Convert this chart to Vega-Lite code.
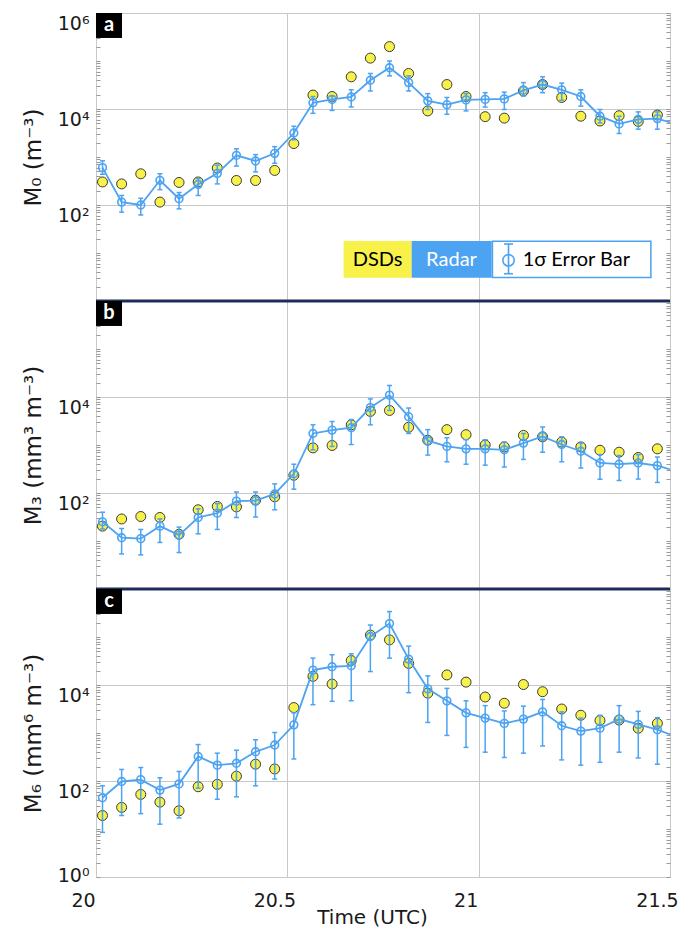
{
  "$schema": "https://vega.github.io/schema/vega-lite/v6.json",
  "background": "white",
  "padding": {"left": 21, "top": 12, "right": 0, "bottom": 0},
  "spacing": 0,
  "bounds": "flush",
  "datasets": {
    "M0": [
      {"t": 20.017, "dsd": 302, "radar": 600, "lo": 437, "hi": 832},
      {"t": 20.067, "dsd": 275, "radar": 115, "lo": 71, "hi": 158},
      {"t": 20.117, "dsd": 447, "radar": 100, "lo": 62, "hi": 138},
      {"t": 20.167, "dsd": 115, "radar": 327, "lo": 209, "hi": 447},
      {"t": 20.217, "dsd": 295, "radar": 135, "lo": 83, "hi": 182},
      {"t": 20.267, "dsd": 302, "radar": 269, "lo": 158, "hi": 355},
      {"t": 20.317, "dsd": 589, "radar": 457, "lo": 275, "hi": 676},
      {"t": 20.367, "dsd": 324, "radar": 1084, "lo": 646, "hi": 1479},
      {"t": 20.417, "dsd": 324, "radar": 826, "lo": 490, "hi": 1122},
      {"t": 20.467, "dsd": 525, "radar": 1191, "lo": 741, "hi": 1641},
      {"t": 20.517, "dsd": 1905, "radar": 3162, "lo": 2291, "hi": 4365},
      {"t": 20.567, "dsd": 19500, "radar": 13490, "lo": 8128, "hi": 18200},
      {"t": 20.617, "dsd": 18200, "radar": 15850, "lo": 9333, "hi": 18620},
      {"t": 20.667, "dsd": 46770, "radar": 17780, "lo": 10960, "hi": 25120},
      {"t": 20.717, "dsd": 114800, "radar": 39810, "lo": 23710, "hi": 54950},
      {"t": 20.767, "dsd": 199500, "radar": 72440, "lo": 48980, "hi": 100000},
      {"t": 20.817, "dsd": 54950, "radar": 35480, "lo": 23710, "hi": 48980},
      {"t": 20.867, "dsd": 9120, "radar": 14790, "lo": 9772, "hi": 20890},
      {"t": 20.917, "dsd": 32360, "radar": 12300, "lo": 7762, "hi": 17380},
      {"t": 20.967, "dsd": 18200, "radar": 15490, "lo": 9120, "hi": 20890},
      {"t": 21.017, "dsd": 6918, "radar": 15850, "lo": 10960, "hi": 21880},
      {"t": 21.067, "dsd": 6457, "radar": 16220, "lo": 9772, "hi": 22390},
      {"t": 21.117, "dsd": 23710, "radar": 24550, "lo": 18620, "hi": 35480},
      {"t": 21.167, "dsd": 32360, "radar": 32360, "lo": 21880, "hi": 46770},
      {"t": 21.217, "dsd": 17380, "radar": 25120, "lo": 15140, "hi": 34670},
      {"t": 21.267, "dsd": 7079, "radar": 18200, "lo": 11480, "hi": 25120},
      {"t": 21.317, "dsd": 5623, "radar": 7079, "lo": 5129, "hi": 9772},
      {"t": 21.367, "dsd": 7244, "radar": 4898, "lo": 3090, "hi": 7079},
      {"t": 21.417, "dsd": 5495, "radar": 6095, "lo": 3802, "hi": 8710},
      {"t": 21.467, "dsd": 7499, "radar": 6310, "lo": 3802, "hi": 8710},
      {"t": 21.517, "dsd": null, "radar": 4786, "lo": null, "hi": null}
    ],
    "M3": [
      {"t": 20.017, "dsd": 20.4, "radar": 25.1, "lo": 17.8, "hi": 39.8},
      {"t": 20.067, "dsd": 28.8, "radar": 11.7, "lo": 5.37, "hi": 18.2},
      {"t": 20.117, "dsd": 32.4, "radar": 11.2, "lo": 5.13, "hi": 17.4},
      {"t": 20.167, "dsd": 30.9, "radar": 20.4, "lo": 9.33, "hi": 28.8},
      {"t": 20.217, "dsd": 13.8, "radar": 13.3, "lo": 5.75, "hi": 19.5},
      {"t": 20.267, "dsd": 44.7, "radar": 30.9, "lo": 14.1, "hi": 46.8},
      {"t": 20.317, "dsd": 52.5, "radar": 38.0, "lo": 17.4, "hi": 60.3},
      {"t": 20.367, "dsd": 51.3, "radar": 67.6, "lo": 30.9, "hi": 105},
      {"t": 20.417, "dsd": 70.8, "radar": 69.2, "lo": 31.6, "hi": 105},
      {"t": 20.467, "dsd": 83.2, "radar": 95.5, "lo": 44.7, "hi": 155},
      {"t": 20.517, "dsd": 234, "radar": 251, "lo": 120, "hi": 398},
      {"t": 20.567, "dsd": 871, "radar": 1738, "lo": 794, "hi": 2630},
      {"t": 20.617, "dsd": 977, "radar": 2042, "lo": 933, "hi": 3090},
      {"t": 20.667, "dsd": 2630, "radar": 2291, "lo": 1023, "hi": 3388},
      {"t": 20.717, "dsd": 5012, "radar": 6026, "lo": 2630, "hi": 9120},
      {"t": 20.767, "dsd": 5248, "radar": 10960, "lo": 5248, "hi": 17380},
      {"t": 20.817, "dsd": 2344, "radar": 3890, "lo": 1738, "hi": 5888},
      {"t": 20.867, "dsd": 1259, "radar": 1230, "lo": 617, "hi": 2089},
      {"t": 20.917, "dsd": 2089, "radar": 933, "lo": 447, "hi": 1413},
      {"t": 20.967, "dsd": 1641, "radar": 832, "lo": 398, "hi": 1288},
      {"t": 21.017, "dsd": 1000, "radar": 832, "lo": 380, "hi": 1288},
      {"t": 21.067, "dsd": 912, "radar": 794, "lo": 347, "hi": 1148},
      {"t": 21.117, "dsd": 1585, "radar": 1096, "lo": 501, "hi": 1738},
      {"t": 21.167, "dsd": 1479, "radar": 1514, "lo": 708, "hi": 2371},
      {"t": 21.217, "dsd": 1148, "radar": 1023, "lo": 447, "hi": 1479},
      {"t": 21.267, "dsd": 912, "radar": 741, "lo": 331, "hi": 1096},
      {"t": 21.317, "dsd": 776, "radar": 422, "lo": 193, "hi": 631},
      {"t": 21.367, "dsd": 708, "radar": 398, "lo": 182, "hi": 603},
      {"t": 21.417, "dsd": 550, "radar": 422, "lo": 195, "hi": 631},
      {"t": 21.467, "dsd": 832, "radar": 372, "lo": 166, "hi": 562},
      {"t": 21.517, "dsd": null, "radar": 282, "lo": null, "hi": null}
    ],
    "M6": [
      {"t": 20.017, "dsd": 19.1, "radar": 44.7, "lo": 8.51, "hi": 79.4},
      {"t": 20.067, "dsd": 28.2, "radar": 97.7, "lo": 19.1, "hi": 174},
      {"t": 20.117, "dsd": 52.5, "radar": 107, "lo": 20.9, "hi": 191},
      {"t": 20.167, "dsd": 36.3, "radar": 64.6, "lo": 12.6, "hi": 117},
      {"t": 20.217, "dsd": 24.0, "radar": 87.1, "lo": 17.0, "hi": 158},
      {"t": 20.267, "dsd": 75.9, "radar": 324, "lo": 70.8, "hi": 575},
      {"t": 20.317, "dsd": 85.1, "radar": 214, "lo": 41.7, "hi": 380},
      {"t": 20.367, "dsd": 126, "radar": 234, "lo": 46.8, "hi": 437},
      {"t": 20.417, "dsd": 224, "radar": 407, "lo": 79.4, "hi": 724},
      {"t": 20.467, "dsd": 178, "radar": 562, "lo": 110, "hi": 1023},
      {"t": 20.517, "dsd": 3388, "radar": 1479, "lo": 288, "hi": 2630},
      {"t": 20.567, "dsd": 15140, "radar": 20420, "lo": 3890, "hi": 36310},
      {"t": 20.617, "dsd": 10470, "radar": 23990, "lo": 4571, "hi": 42660},
      {"t": 20.667, "dsd": 32360, "radar": 25120, "lo": 4677, "hi": 44670},
      {"t": 20.717, "dsd": 109600, "radar": 102300, "lo": 19050, "hi": 177800},
      {"t": 20.767, "dsd": 87100, "radar": 190500, "lo": 36310, "hi": 338800},
      {"t": 20.817, "dsd": 28180, "radar": 34670, "lo": 6918, "hi": 64570},
      {"t": 20.867, "dsd": 6761, "radar": 8318, "lo": 1660, "hi": 15490},
      {"t": 20.917, "dsd": 16220, "radar": 4677, "lo": 891, "hi": 8511},
      {"t": 20.967, "dsd": 11480, "radar": 2630, "lo": 501, "hi": 4677},
      {"t": 21.017, "dsd": 5623, "radar": 2042, "lo": 398, "hi": 3715},
      {"t": 21.067, "dsd": 4169, "radar": 1585, "lo": 309, "hi": 2884},
      {"t": 21.117, "dsd": 10230, "radar": 1950, "lo": 380, "hi": 3631},
      {"t": 21.167, "dsd": 7244, "radar": 2754, "lo": 537, "hi": 5012},
      {"t": 21.217, "dsd": 3162, "radar": 1413, "lo": 275, "hi": 2754},
      {"t": 21.267, "dsd": 2344, "radar": 1096, "lo": 214, "hi": 2042},
      {"t": 21.317, "dsd": 1820, "radar": 1259, "lo": 245, "hi": 2344},
      {"t": 21.367, "dsd": 1862, "radar": 1950, "lo": 398, "hi": 3715},
      {"t": 21.417, "dsd": 1259, "radar": 1514, "lo": 302, "hi": 2818},
      {"t": 21.467, "dsd": 1585, "radar": 1175, "lo": 224, "hi": 2089},
      {"t": 21.517, "dsd": null, "radar": 832, "lo": null, "hi": null}
    ]
  },
  "vconcat": [
    {
      "width": 574, "height": 288,
      "data": {"name": "M0"},
      "resolve": {"axis": {"x": "independent", "y": "independent"}},
      "layer": [
        {"mark": {"type": "point", "shape": "circle", "filled": true, "fill": "#F7F14A", "stroke": "#3a3a3a", "strokeWidth": 1, "size": 100, "opacity": 1},
         "encoding": {
           "x": {"field": "t", "type": "quantitative", "scale": {"domain": [20, 21.5], "nice": false, "zero": false},
                 "axis": {"values": [20.5, 21], "grid": true, "labels": false, "ticks": false, "domain": false, "title": null}},
           "y": {"field": "dsd", "type": "quantitative", "scale": {"type": "log", "domain": [1, 1000000], "nice": false},
                 "axis": {"title": "M₀ (m⁻³)", "values": [1,2,3,4,5,6,7,8,9,10,20,30,40,50,60,70,80,90,100,200,300,400,500,600,700,800,900,1000,2000,3000,4000,5000,6000,7000,8000,9000,10000,20000,30000,40000,50000,60000,70000,80000,90000,100000,200000,300000,400000,500000,600000,700000,800000,900000,1000000],
                          "labelExpr": "datum.value == 1000000 ? '10⁶' : datum.value == 10000 ? '10⁴' : datum.value == 100 ? '10²' : ''",
                          "grid": true, "gridOpacity": {"condition": {"test": "datum.value == 100 || datum.value == 10000", "value": 1}, "value": 0},
                          "tickSize": -4, "labelPadding": 11, "labelBaseline": "middle", "labelOffset": 10, "labelOverlap": false, "labelBound": false, "titlePadding": 12}}}},
        {"transform": [{"filter": "isValid(datum.lo)"}],
         "mark": {"type": "rule", "color": "#4BA3F2", "strokeWidth": 1.5},
         "encoding": {"x": {"field": "t", "type": "quantitative", "axis": null}, "y": {"field": "lo", "type": "quantitative", "axis": null}, "y2": {"field": "hi"}}},
        {"transform": [{"filter": "isValid(datum.lo)"}],
         "mark": {"type": "tick", "orient": "horizontal", "color": "#4BA3F2", "size": 5, "thickness": 1.5, "opacity": 1},
         "encoding": {"x": {"field": "t", "type": "quantitative", "axis": null}, "y": {"field": "lo", "type": "quantitative", "axis": null}}},
        {"transform": [{"filter": "isValid(datum.lo)"}],
         "mark": {"type": "tick", "orient": "horizontal", "color": "#4BA3F2", "size": 5, "thickness": 1.5, "opacity": 1},
         "encoding": {"x": {"field": "t", "type": "quantitative", "axis": null}, "y": {"field": "hi", "type": "quantitative", "axis": null}}},
        {"mark": {"type": "line", "color": "#4BA3F2", "strokeWidth": 1.8, "clip": true},
         "encoding": {"x": {"field": "t", "type": "quantitative", "axis": null},
                      "y": {"field": "radar", "type": "quantitative",
                            "axis": {"orient": "right", "values": [1,2,3,4,5,6,7,8,9,10,20,30,40,50,60,70,80,90,100,200,300,400,500,600,700,800,900,1000,2000,3000,4000,5000,6000,7000,8000,9000,10000,20000,30000,40000,50000,60000,70000,80000,90000,100000,200000,300000,400000,500000,600000,700000,800000,900000,1000000],
                                     "labels": false, "grid": false, "domain": false, "tickSize": -4, "title": null}}}},
        {"mark": {"type": "point", "shape": "circle", "filled": false, "color": "#4BA3F2", "strokeWidth": 1.6, "size": 60, "opacity": 1, "clip": true},
         "encoding": {"x": {"field": "t", "type": "quantitative", "axis": null}, "y": {"field": "radar", "type": "quantitative", "axis": null}}},
        {"data": {"values": [{"panel": "a"}]},
         "mark": {"type": "rect", "color": "black"},
         "encoding": {"x": {"datum": 20, "type": "quantitative", "axis": null}, "x2": {"datum": 20.068},
                      "y": {"datum": 1000000, "type": "quantitative", "axis": null}, "y2": {"datum": 302000}}},
        {"data": {"values": [{"panel": "a"}]},
         "mark": {"type": "text", "color": "white", "font": "Lato", "fontSize": 20, "fontWeight": "bold", "baseline": "middle", "align": "center"},
         "encoding": {"x": {"datum": 20.034, "type": "quantitative", "axis": null}, "y": {"datum": 549500, "type": "quantitative", "axis": null}, "text": {"field": "panel"}}},
        {"data": {"values": [{"label": "DSDs"}]},
         "mark": {"type": "rect", "color": "#F7F14A"},
         "encoding": {"x": {"datum": 20.647, "type": "quantitative", "axis": null}, "x2": {"datum": 20.825},
                      "y": {"datum": 3.06, "type": "quantitative", "axis": null}, "y2": {"datum": 17.8}}},
        {"data": {"values": [{"label": "Radar"}]},
         "mark": {"type": "rect", "color": "#4BA3F2"},
         "encoding": {"x": {"datum": 20.825, "type": "quantitative", "axis": null}, "x2": {"datum": 21.034},
                      "y": {"datum": 3.06, "type": "quantitative", "axis": null}, "y2": {"datum": 17.8}}},
        {"data": {"values": [{"label": "1σ Error Bar"}]},
         "mark": {"type": "rect", "fill": "white", "stroke": "#4BA3F2", "strokeWidth": 1.5},
         "encoding": {"x": {"datum": 21.036, "type": "quantitative", "axis": null}, "x2": {"datum": 21.450},
                      "y": {"datum": 3.1, "type": "quantitative", "axis": null}, "y2": {"datum": 17.6}}},
        {"data": {"values": [{"label": "DSDs"}]},
         "mark": {"type": "text", "color": "black", "font": "Lato", "fontSize": 20, "baseline": "middle", "align": "center"},
         "encoding": {"x": {"datum": 20.736, "type": "quantitative", "axis": null}, "y": {"datum": 7.05, "type": "quantitative", "axis": null}, "text": {"field": "label"}}},
        {"data": {"values": [{"label": "Radar"}]},
         "mark": {"type": "text", "color": "white", "font": "Lato", "fontSize": 20, "baseline": "middle", "align": "center"},
         "encoding": {"x": {"datum": 20.929, "type": "quantitative", "axis": null}, "y": {"datum": 7.05, "type": "quantitative", "axis": null}, "text": {"field": "label"}}},
        {"data": {"values": [{"label": "1σ Error Bar"}]},
         "mark": {"type": "text", "color": "black", "font": "Lato", "fontSize": 20, "baseline": "middle", "align": "left"},
         "encoding": {"x": {"datum": 21.115, "type": "quantitative", "axis": null}, "y": {"datum": 7.05, "type": "quantitative", "axis": null}, "text": {"field": "label"}}},
        {"data": {"values": [{"label": "1σ Error Bar"}]},
         "mark": {"type": "rule", "color": "#4BA3F2", "strokeWidth": 1.6},
         "encoding": {"x": {"datum": 21.078, "type": "quantitative", "axis": null}, "y": {"datum": 3.7, "type": "quantitative", "axis": null}, "y2": {"datum": 15.4}}},
        {"data": {"values": [{"label": "1σ Error Bar"}]},
         "mark": {"type": "tick", "orient": "horizontal", "color": "#4BA3F2", "size": 9, "thickness": 1.6, "opacity": 1},
         "encoding": {"x": {"datum": 21.078, "type": "quantitative", "axis": null}, "y": {"datum": 3.7, "type": "quantitative", "axis": null}}},
        {"data": {"values": [{"label": "1σ Error Bar"}]},
         "mark": {"type": "tick", "orient": "horizontal", "color": "#4BA3F2", "size": 9, "thickness": 1.6, "opacity": 1},
         "encoding": {"x": {"datum": 21.078, "type": "quantitative", "axis": null}, "y": {"datum": 15.4, "type": "quantitative", "axis": null}}},
        {"data": {"values": [{"label": "1σ Error Bar"}]},
         "mark": {"type": "point", "shape": "circle", "filled": false, "color": "#4BA3F2", "strokeWidth": 1.6, "size": 130, "opacity": 1},
         "encoding": {"x": {"datum": 21.078, "type": "quantitative", "axis": null}, "y": {"datum": 7.05, "type": "quantitative", "axis": null}}}
      ]
    },
    {
      "width": 574, "height": 288,
      "data": {"name": "M3"},
      "resolve": {"axis": {"x": "independent", "y": "independent"}},
      "layer": [
        {"mark": {"type": "point", "shape": "circle", "filled": true, "fill": "#F7F14A", "stroke": "#3a3a3a", "strokeWidth": 1, "size": 100, "opacity": 1},
         "encoding": {
           "x": {"field": "t", "type": "quantitative", "scale": {"domain": [20, 21.5], "nice": false, "zero": false},
                 "axis": {"values": [20.5, 21], "grid": true, "labels": false, "ticks": false, "domain": false, "title": null}},
           "y": {"field": "dsd", "type": "quantitative", "scale": {"type": "log", "domain": [1, 1000000], "nice": false},
                 "axis": {"title": "M₃ (mm³ m⁻³)", "values": [1,2,3,4,5,6,7,8,9,10,20,30,40,50,60,70,80,90,100,200,300,400,500,600,700,800,900,1000,2000,3000,4000,5000,6000,7000,8000,9000,10000,20000,30000,40000,50000,60000,70000,80000,90000,100000,200000,300000,400000,500000,600000,700000,800000,900000,1000000],
                          "labelExpr": "datum.value == 10000 ? '10⁴' : datum.value == 100 ? '10²' : ''",
                          "grid": true, "gridOpacity": {"condition": {"test": "datum.value == 100 || datum.value == 10000", "value": 1}, "value": 0},
                          "tickSize": -4, "labelPadding": 11, "labelBaseline": "middle", "labelOffset": 10, "labelOverlap": false, "labelBound": false, "titlePadding": 12}}}},
        {"transform": [{"filter": "isValid(datum.lo)"}],
         "mark": {"type": "rule", "color": "#4BA3F2", "strokeWidth": 1.5},
         "encoding": {"x": {"field": "t", "type": "quantitative", "axis": null}, "y": {"field": "lo", "type": "quantitative", "axis": null}, "y2": {"field": "hi"}}},
        {"transform": [{"filter": "isValid(datum.lo)"}],
         "mark": {"type": "tick", "orient": "horizontal", "color": "#4BA3F2", "size": 5, "thickness": 1.5, "opacity": 1},
         "encoding": {"x": {"field": "t", "type": "quantitative", "axis": null}, "y": {"field": "lo", "type": "quantitative", "axis": null}}},
        {"transform": [{"filter": "isValid(datum.lo)"}],
         "mark": {"type": "tick", "orient": "horizontal", "color": "#4BA3F2", "size": 5, "thickness": 1.5, "opacity": 1},
         "encoding": {"x": {"field": "t", "type": "quantitative", "axis": null}, "y": {"field": "hi", "type": "quantitative", "axis": null}}},
        {"mark": {"type": "line", "color": "#4BA3F2", "strokeWidth": 1.8, "clip": true},
         "encoding": {"x": {"field": "t", "type": "quantitative", "axis": null},
                      "y": {"field": "radar", "type": "quantitative",
                            "axis": {"orient": "right", "values": [1,2,3,4,5,6,7,8,9,10,20,30,40,50,60,70,80,90,100,200,300,400,500,600,700,800,900,1000,2000,3000,4000,5000,6000,7000,8000,9000,10000,20000,30000,40000,50000,60000,70000,80000,90000,100000,200000,300000,400000,500000,600000,700000,800000,900000,1000000],
                                     "labels": false, "grid": false, "domain": false, "tickSize": -4, "title": null}}}},
        {"mark": {"type": "point", "shape": "circle", "filled": false, "color": "#4BA3F2", "strokeWidth": 1.6, "size": 60, "opacity": 1, "clip": true},
         "encoding": {"x": {"field": "t", "type": "quantitative", "axis": null}, "y": {"field": "radar", "type": "quantitative", "axis": null}}},
        {"data": {"values": [{"panel": "b"}]},
         "mark": {"type": "rule", "color": "#1c2c5c", "strokeWidth": 3},
         "encoding": {"y": {"datum": 1000000, "type": "quantitative", "axis": null}}},
        {"data": {"values": [{"panel": "b"}]},
         "mark": {"type": "rect", "color": "black"},
         "encoding": {"x": {"datum": 20, "type": "quantitative", "axis": null}, "x2": {"datum": 20.068},
                      "y": {"datum": 1000000, "type": "quantitative", "axis": null}, "y2": {"datum": 302000}}},
        {"data": {"values": [{"panel": "b"}]},
         "mark": {"type": "text", "color": "white", "font": "Lato", "fontSize": 20, "fontWeight": "bold", "baseline": "middle", "align": "center"},
         "encoding": {"x": {"datum": 20.034, "type": "quantitative", "axis": null}, "y": {"datum": 549500, "type": "quantitative", "axis": null}, "text": {"field": "panel"}}}
      ]
    },
    {
      "width": 574, "height": 288,
      "data": {"name": "M6"},
      "resolve": {"axis": {"x": "independent", "y": "independent"}},
      "layer": [
        {"mark": {"type": "point", "shape": "circle", "filled": true, "fill": "#F7F14A", "stroke": "#3a3a3a", "strokeWidth": 1, "size": 100, "opacity": 1},
         "encoding": {
           "x": {"field": "t", "type": "quantitative", "scale": {"domain": [20, 21.5], "nice": false, "zero": false},
                 "axis": {"values": [20, 20.5, 21, 21.5], "grid": true, "format": "~g", "labelAlign": "center", "labelOffset": -13, "labelPadding": 14, "labelFontSize": 19, "labelFlush": false, "labelOverlap": false, "ticks": false, "domain": false, "title": "Time (UTC)", "titleFontSize": 20, "titlePadding": -3, "titleX": 276}},
           "y": {"field": "dsd", "type": "quantitative", "scale": {"type": "log", "domain": [1, 1000000], "nice": false},
                 "axis": {"title": "M₆ (mm⁶ m⁻³)", "values": [1,2,3,4,5,6,7,8,9,10,20,30,40,50,60,70,80,90,100,200,300,400,500,600,700,800,900,1000,2000,3000,4000,5000,6000,7000,8000,9000,10000,20000,30000,40000,50000,60000,70000,80000,90000,100000,200000,300000,400000,500000,600000,700000,800000,900000,1000000],
                          "labelExpr": "datum.value == 10000 ? '10⁴' : datum.value == 100 ? '10²' : datum.value == 1 ? '10⁰' : ''",
                          "grid": true, "gridOpacity": {"condition": {"test": "datum.value == 100 || datum.value == 10000", "value": 1}, "value": 0},
                          "tickSize": -4, "labelPadding": 11, "labelBaseline": "middle",
                          "labelOffset": {"condition": {"test": "datum.value == 1", "value": -2}, "value": 10},
                          "labelOverlap": false, "labelBound": false, "titlePadding": 12}}}},
        {"transform": [{"filter": "isValid(datum.lo)"}],
         "mark": {"type": "rule", "color": "#4BA3F2", "strokeWidth": 1.5},
         "encoding": {"x": {"field": "t", "type": "quantitative", "axis": null}, "y": {"field": "lo", "type": "quantitative", "axis": null}, "y2": {"field": "hi"}}},
        {"transform": [{"filter": "isValid(datum.lo)"}],
         "mark": {"type": "tick", "orient": "horizontal", "color": "#4BA3F2", "size": 5, "thickness": 1.5, "opacity": 1},
         "encoding": {"x": {"field": "t", "type": "quantitative", "axis": null}, "y": {"field": "lo", "type": "quantitative", "axis": null}}},
        {"transform": [{"filter": "isValid(datum.lo)"}],
         "mark": {"type": "tick", "orient": "horizontal", "color": "#4BA3F2", "size": 5, "thickness": 1.5, "opacity": 1},
         "encoding": {"x": {"field": "t", "type": "quantitative", "axis": null}, "y": {"field": "hi", "type": "quantitative", "axis": null}}},
        {"mark": {"type": "line", "color": "#4BA3F2", "strokeWidth": 1.8, "clip": true},
         "encoding": {"x": {"field": "t", "type": "quantitative", "axis": null},
                      "y": {"field": "radar", "type": "quantitative",
                            "axis": {"orient": "right", "values": [1,2,3,4,5,6,7,8,9,10,20,30,40,50,60,70,80,90,100,200,300,400,500,600,700,800,900,1000,2000,3000,4000,5000,6000,7000,8000,9000,10000,20000,30000,40000,50000,60000,70000,80000,90000,100000,200000,300000,400000,500000,600000,700000,800000,900000,1000000],
                                     "labels": false, "grid": false, "domain": false, "tickSize": -4, "title": null}}}},
        {"mark": {"type": "point", "shape": "circle", "filled": false, "color": "#4BA3F2", "strokeWidth": 1.6, "size": 60, "opacity": 1, "clip": true},
         "encoding": {"x": {"field": "t", "type": "quantitative", "axis": null}, "y": {"field": "radar", "type": "quantitative", "axis": null}}},
        {"data": {"values": [{"panel": "c"}]},
         "mark": {"type": "rule", "color": "#1c2c5c", "strokeWidth": 3},
         "encoding": {"y": {"datum": 1000000, "type": "quantitative", "axis": null}}},
        {"data": {"values": [{"panel": "c"}]},
         "mark": {"type": "rect", "color": "black"},
         "encoding": {"x": {"datum": 20, "type": "quantitative", "axis": null}, "x2": {"datum": 20.068},
                      "y": {"datum": 1000000, "type": "quantitative", "axis": null}, "y2": {"datum": 302000}}},
        {"data": {"values": [{"panel": "c"}]},
         "mark": {"type": "text", "color": "white", "font": "Lato", "fontSize": 20, "fontWeight": "bold", "baseline": "middle", "align": "center"},
         "encoding": {"x": {"datum": 20.034, "type": "quantitative", "axis": null}, "y": {"datum": 549500, "type": "quantitative", "axis": null}, "text": {"field": "panel"}}}
      ]
    }
  ],
  "config": {
    "view": {"stroke": "#c8c8c8", "strokeWidth": 1},
    "axis": {"labelFont": "DejaVu Sans", "labelFontSize": 19, "labelColor": "#1a1a1a", "titleFont": "DejaVu Sans", "titleFontSize": 23, "titleFontWeight": "normal", "titleColor": "#1a1a1a", "gridColor": "#c8c8c8", "gridWidth": 1, "tickColor": "#9a9a9a", "tickWidth": 1, "domain": false}
  }
}
